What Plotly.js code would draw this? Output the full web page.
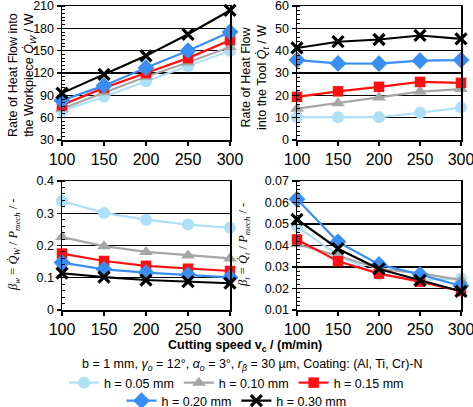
<!DOCTYPE html>
<html>
<head>
<meta charset="utf-8">
<script src="https://cdn.plot.ly/plotly-3.0.1.min.js"></script>
<style>html,body{margin:0;padding:0;background:#fff;overflow:hidden;} #chart{width:473px;height:407px;}</style>
</head>
<body>
<div id="chart"></div>
<script>
// ---- data ----
const speeds = [100, 150, 200, 250, 300];
const seriesNames = ['h = 0.05 mm', 'h = 0.10 mm', 'h = 0.15 mm', 'h = 0.20 mm', 'h = 0.30 mm'];

// Rate of heat flow into the workpiece Q_W / W
const qW_005 = [69, 88, 109, 129, 150];
const qW_010 = [72, 94, 115, 134, 155];
const qW_015 = [77, 100, 120, 140, 164];
const qW_020 = [83, 103, 127, 150, 175];
const qW_030 = [93, 118, 143, 172, 204];

// Rate of heat flow into the tool Q_t / W
const qT_005 = [10.2, 10.2, 10.2, 12.2, 14.5];
const qT_010 = [14, 16.5, 19, 21.7, 22.8];
const qT_015 = [19.3, 21.8, 23.8, 26, 25.6];
const qT_020 = [35.8, 34.3, 34.2, 35.5, 35.8];
const qT_030 = [41.2, 44, 45, 46.8, 45.3];

// beta_w = Q_W / P_mech
const bW_005 = [0.338, 0.301, 0.280, 0.265, 0.255];
const bW_010 = [0.226, 0.198, 0.180, 0.169, 0.160];
const bW_015 = [0.175, 0.152, 0.137, 0.128, 0.121];
const bW_020 = [0.147, 0.126, 0.116, 0.109, 0.101];
const bW_030 = [0.114, 0.102, 0.093, 0.088, 0.083];

// beta_t = Q_t / P_mech
const bT_005 = [0.0488, 0.0355, 0.0265, 0.0240, 0.0246];
const bT_010 = [0.0406, 0.0352, 0.0292, 0.0270, 0.0240];
const bT_015 = [0.0428, 0.0327, 0.0269, 0.0232, 0.0188];
const bT_020 = [0.0615, 0.0417, 0.0312, 0.0265, 0.0212];
const bT_030 = [0.0521, 0.0385, 0.0291, 0.0238, 0.0187];

// axis titles
const titleQW = 'Rate of Heat Flow into<br>the Workpiece <i>Q̇<sub>W</sub></i> / W';
const titleQT = 'Rate of Heat Flow<br>into the Tool <i>Q̇<sub>t</sub></i> / W';
const titleBW = '<i>β<sub>w</sub></i> = <i>Q̇<sub>W</sub></i> / <i>P<sub>mech</sub></i> / -';
const titleBT = '<i>β<sub>t</sub></i> = <i>Q̇<sub>t</sub></i> / <i>P<sub>mech</sub></i> / -';
const titleX = '<b>Cutting speed v<sub>c</sub> / (m/min)</b>';
const paramText = 'b = 1 mm, <i>γ<sub>o</sub></i> = 12°, <i>α<sub>o</sub></i> = 3°, <i>r<sub>β</sub></i> = 30 µm, Coating: (Al, Ti, Cr)-N';

const seriesColors = ['#ade0f7', '#a6a6a6', '#ff1010', '#3a8ef0', '#000000'];
const seriesSymbols = ['circle', 'triangle-up', 'square', 'diamond', 'x-thin-open'];
const seriesSizes = [12, 12, 10.5, 13, 11];

const panels = [
  {xa: 'x', ya: 'y', data: [qW_005, qW_010, qW_015, qW_020, qW_030]},
  {xa: 'x2', ya: 'y2', data: [qT_005, qT_010, qT_015, qT_020, qT_030]},
  {xa: 'x3', ya: 'y3', data: [bW_005, bW_010, bW_015, bW_020, bW_030]},
  {xa: 'x4', ya: 'y4', data: [bT_005, bT_010, bT_015, bT_020, bT_030]}
];

const traces = [];
panels.forEach((p, pi) => {
  p.data.forEach((vals, si) => {
    const isX = seriesSymbols[si] === 'x-thin-open';
    traces.push({
      type: 'scatter', mode: 'lines+markers',
      x: speeds, y: vals, xaxis: p.xa, yaxis: p.ya,
      name: seriesNames[si],
      legend: si < 3 ? 'legend' : 'legend2',
      showlegend: pi === 0,
      cliponaxis: false,
      line: {color: seriesColors[si], width: 2.2},
      marker: {
        symbol: seriesSymbols[si], size: seriesSizes[si],
        color: seriesColors[si],
        line: {color: seriesColors[si], width: isX ? 3.2 : 0}
      }
    });
  });
});

const font = 'Liberation Sans, Arial, sans-serif';
const serif = 'Liberation Serif, DejaVu Serif, serif';
const xBase = {
  range: [100, 300], dtick: 50, tick0: 100,
  showline: true, linecolor: 'black', linewidth: 1.5, mirror: true,
  showgrid: false, zeroline: false,
  ticks: 'outside', ticklen: 4, tickcolor: 'black', tickwidth: 1.2,
  tickfont: {family: font, size: 16, color: 'black'},
  ticklabeloverflow: 'allow',
  automargin: false, fixedrange: true
};
function yAxis(range, dtick, minorDt, fmt, dom) {
  return {
    domain: dom, range: range, dtick: dtick, tick0: range[0],
    showline: true, linecolor: 'black', linewidth: 1.5, mirror: true,
    showgrid: true, gridcolor: 'black', gridwidth: 1.3, zeroline: false,
    ticks: 'outside', ticklen: 4, tickcolor: 'black', tickwidth: 1.2,
    tickformat: fmt, ticklabeloverflow: 'allow',
    minor: {dtick: minorDt, ticks: 'inside', ticklen: 3, tickcolor: 'black', tickwidth: 1, showgrid: false},
    tickfont: {family: font, size: 12.5, color: 'black'},
    automargin: false, fixedrange: true
  };
}
const xL = [62 / 473, 230 / 473];
const xR = [297 / 473, 461 / 473];
const yT = [1 - 140 / 407, 1 - 6 / 407];
const yB = [1 - 310 / 407, 1 - 181 / 407];

function px(x) { return x / 473; }
function py(y) { return 1 - y / 407; }
function rotTitle(text, x, y, fam) {
  return {xref: 'paper', yref: 'paper', x: px(x), y: py(y), xanchor: 'center', yanchor: 'middle',
    textangle: -90, showarrow: false, text: text, align: 'center',
    font: {family: fam, size: 12.5, color: 'black'}};
}

const layout = {
  width: 473, height: 407,
  margin: {l: 0, r: 0, t: 0, b: 0, autoexpand: false},
  paper_bgcolor: 'white', plot_bgcolor: 'white',
  font: {family: font, color: 'black'},
  xaxis: Object.assign({}, xBase, {domain: xL, anchor: 'y'}),
  xaxis2: Object.assign({}, xBase, {domain: xR, anchor: 'y2'}),
  xaxis3: Object.assign({}, xBase, {domain: xL, anchor: 'y3'}),
  xaxis4: Object.assign({}, xBase, {domain: xR, anchor: 'y4'}),
  yaxis: Object.assign(yAxis([30, 210], 30, 5, 'd', yT), {anchor: 'x'}),
  yaxis2: Object.assign(yAxis([0, 60], 10, 2, 'd', yT), {anchor: 'x2'}),
  yaxis3: Object.assign(yAxis([0, 0.4], 0.1, 0.02, '', yB), {anchor: 'x3'}),
  yaxis4: Object.assign(yAxis([0.01, 0.07], 0.01, 0.002, '.2f', yB), {anchor: 'x4'}),
  legend: {
    orientation: 'h', x: 0.5, xanchor: 'center', y: py(383), yanchor: 'middle',
    font: {family: font, size: 12.5, color: 'black'}, bgcolor: 'rgba(0,0,0,0)', itemwidth: 30
  },
  legend2: {
    orientation: 'h', x: 0.5, xanchor: 'center', y: py(401), yanchor: 'middle',
    font: {family: font, size: 12.5, color: 'black'}, bgcolor: 'rgba(0,0,0,0)', itemwidth: 30
  },
  annotations: [
    rotTitle(titleQW, 22, 75, font),
    rotTitle(titleQT, 255, 78, font),
    rotTitle(titleBW, 14, 245, serif),
    rotTitle(titleBT, 244, 245, serif),
    {xref: 'paper', yref: 'paper', x: px(245), y: py(346), xanchor: 'center', yanchor: 'middle',
     showarrow: false, text: titleX, font: {family: font, size: 12.5, color: 'black'}},
    {xref: 'paper', yref: 'paper', x: px(252), y: py(365), xanchor: 'center', yanchor: 'middle',
     showarrow: false, text: paramText, font: {family: font, size: 12.5, color: 'black'}}
  ]
};

Plotly.newPlot('chart', traces, layout, {displayModeBar: false, staticPlot: true});
</script>
</body>
</html>
